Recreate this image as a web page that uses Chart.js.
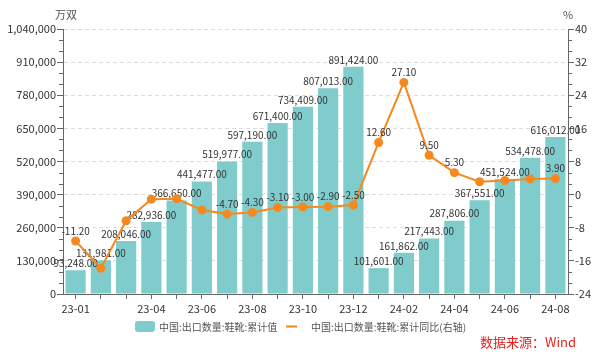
<!DOCTYPE html>
<html><head><meta charset="utf-8">
<script src="https://cdn.jsdelivr.net/npm/chart.js@4/dist/chart.umd.min.js"></script>
<style>html,body{margin:0;padding:0;background:#fff}#wrap{width:600px;height:358px;position:relative}</style>
</head><body><div id="wrap"><canvas id="c" width="600" height="358"></canvas></div>
<script>
const categories = ['23-01','23-02','23-03','23-04','23-05','23-06','23-07','23-08','23-09','23-10','23-11','23-12','24-01','24-02','24-03','24-04','24-05','24-06','24-07','24-08'];
const shownTickLabels = ['23-01','23-04','23-06','23-08','23-10','23-12','24-02','24-04','24-06','24-08'];
const exportQty = [93248,131981,208046,282936,366650,441477,519977,597190,671400,734409,807013,891424,101601,161862,217443,287806,367551,451524,534478,616012];
const yoyPct = [-11.2,-17.8,-6.3,-1.1,-1.0,-3.7,-4.7,-4.3,-3.1,-3.0,-2.9,-2.5,12.6,27.1,9.5,5.3,3.1,3.4,3.8,3.9];
const yoyLabelShown = [1,0,0,0,0,0,1,1,1,1,1,1,1,1,1,1,0,0,0,1];
const barLabel = '中国:出口数量:鞋靴:累计值';
const lineLabel = '中国:出口数量:鞋靴:累计同比(右轴)';
const leftAxisTitle = '万双';
const rightAxisTitle = '%';
const sourceText = '数据来源：Wind';
const leftMin = 0, leftMax = 1040000, leftStep = 130000;
const rightMin = -24, rightMax = 40, rightStep = 8;

const FONT = '"Noto Sans CJK SC", "Open Sans", sans-serif';
const BAR_COLOR = '#80cccc';
const LINE_COLOR = '#f5891f';
const AXIS_COLOR = '#666666';

const fmt2 = v => v.toLocaleString('en-US',{minimumFractionDigits:2,maximumFractionDigits:2});

const decor = {
  id: 'decor',
  afterDatasetDraw(chart, args) {
    if (args.index !== 0) return;
    const ctx = chart.ctx;
    ctx.save();
    ctx.font = '10px ' + FONT;
    ctx.fillStyle = '#333';
    ctx.textAlign = 'center';
    ctx.textBaseline = 'middle';
    args.meta.data.forEach((el, i) => {
      ctx.fillText(fmt2(exportQty[i]), el.x, el.y - 7);
    });
    ctx.restore();
  },
  afterDatasetsDraw(chart) {
    const ctx = chart.ctx;
    const lineMeta = chart.getDatasetMeta(1);
    ctx.save();
    ctx.font = '10px ' + FONT;
    ctx.fillStyle = '#333';
    ctx.textAlign = 'center';
    ctx.textBaseline = 'middle';
    lineMeta.data.forEach((el, i) => {
      if (yoyLabelShown[i]) ctx.fillText(yoyPct[i].toFixed(2), el.x, el.y - 10);
    });
    // minor ticks
    const yL = chart.scales.y, yR = chart.scales.y1;
    ctx.strokeStyle = AXIS_COLOR;
    ctx.lineWidth = 1;
    ctx.beginPath();
    for (let v = leftMin; v < leftMax; v += leftStep) {
      for (let k = 1; k < 3; k++) {
        const py = Math.round(yL.getPixelForValue(v + leftStep * k / 3)) + 0.5;
        ctx.moveTo(yL.right - 4, py); ctx.lineTo(yL.right, py);
      }
    }
    for (let v = rightMin; v < rightMax; v += rightStep) {
      for (let k = 1; k < 3; k++) {
        const py = Math.round(yR.getPixelForValue(v + rightStep * k / 3)) + 0.5;
        ctx.moveTo(yR.left, py); ctx.lineTo(yR.left + 4, py);
      }
    }
    ctx.stroke();
    // axis titles
    ctx.font = '11px ' + FONT;
    ctx.fillStyle = '#555';
    ctx.fillText(leftAxisTitle, 66, 15);
    ctx.fillText(rightAxisTitle, 568, 15);
    // legend
    ctx.fillStyle = BAR_COLOR;
    ctx.beginPath();
    ctx.roundRect(135, 321, 20, 11, 3);
    ctx.fill();
    ctx.strokeStyle = LINE_COLOR;
    ctx.lineWidth = 2;
    ctx.beginPath();
    ctx.moveTo(286, 326.5); ctx.lineTo(297, 326.5);
    ctx.stroke();
    ctx.fillStyle = '#555';
    ctx.textAlign = 'left';
    ctx.font = '10px ' + FONT;
    ctx.fillText(barLabel, 159, 327);
    ctx.fillText(lineLabel, 311, 327);
    // source
    ctx.fillStyle = '#e3231e';
    ctx.font = '13px ' + FONT;
    ctx.textAlign = 'right';
    ctx.fillText(sourceText, 576, 342);
    ctx.restore();
  }
};

new Chart(document.getElementById('c'), {
  data: {
    labels: categories,
    datasets: [
      { type: 'bar', label: barLabel, data: exportQty, yAxisID: 'y', backgroundColor: BAR_COLOR,
        barPercentage: 0.8, categoryPercentage: 1.0, order: 1 },
      { type: 'line', label: lineLabel, data: yoyPct, yAxisID: 'y1', borderColor: LINE_COLOR,
        backgroundColor: LINE_COLOR, borderWidth: 2, pointRadius: 4.5, pointBackgroundColor: LINE_COLOR,
        pointBorderWidth: 0, tension: 0, order: 0 }
    ]
  },
  options: {
    responsive: false, animation: false, devicePixelRatio: 1,
    layout: { padding: { top: 29, left: 0, right: 0, bottom: 0 } },
    plugins: { legend: { display: false }, tooltip: { enabled: false } },
    scales: {
      x: {
        offset: true,
        grid: { offset: false, drawOnChartArea: false, color: AXIS_COLOR, tickLength: 5 },
        border: { color: AXIS_COLOR },
        ticks: { autoSkip: false, maxRotation: 0, padding: 3, color: '#333', font: { family: FONT, size: 11 },
          callback: function(v, i) { const l = categories[i]; return shownTickLabels.includes(l) ? l : ''; } },
        afterFit: s => { s.height = 64; }
      },
      y: {
        position: 'left', min: leftMin, max: leftMax,
        grid: { color: '#dddddd', tickColor: AXIS_COLOR, tickLength: 6, drawOnChartArea: true },
        border: { color: AXIS_COLOR, dash: [4, 3] },
        ticks: { stepSize: leftStep, padding: 1, color: '#333', font: { family: FONT, size: 11 },
          callback: v => v.toLocaleString('en-US') },
        afterFit: s => { s.width = 63; }
      },
      y1: {
        position: 'right', min: rightMin, max: rightMax,
        grid: { drawOnChartArea: false, tickColor: AXIS_COLOR, tickLength: 6 },
        border: { color: AXIS_COLOR },
        ticks: { stepSize: rightStep, padding: 1, color: '#333', font: { family: FONT, size: 11 } },
        afterFit: s => { s.width = 32; }
      }
    }
  },
  plugins: [decor]
});
</script></body></html>
